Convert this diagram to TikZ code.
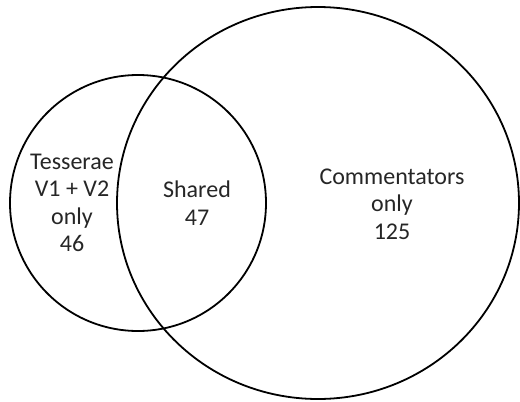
\documentclass[tikz,border=0pt]{standalone}
\usepackage{fontspec}
\setmainfont{Carlito}
\usepackage{tikz}
\usetikzlibrary{positioning}

\begin{document}
\begin{tikzpicture}[x=1pt,y=-1pt,line width=1.8pt]
  \tikzstyle{set}=[draw=black]
  \tikzstyle{count}=[align=center,font=\fontsize{24}{27.5}\selectfont,text=black!85]

  \useasboundingbox (0,0) rectangle (520,402);

  % the two sets
  \draw[set] (138,203) circle [radius=128];
  \draw[set] (318,203) ellipse [x radius=201,y radius=196];

  % region counts
  \node[count] (tess) at (72,203) {Tesserae\\V1 + V2\\only\\46};
  \node[count] (shared) at (197,203) {Shared\\47};
  \node[count] (comm) at (392,204) {Commentators\\only\\125};
\end{tikzpicture}
\end{document}
